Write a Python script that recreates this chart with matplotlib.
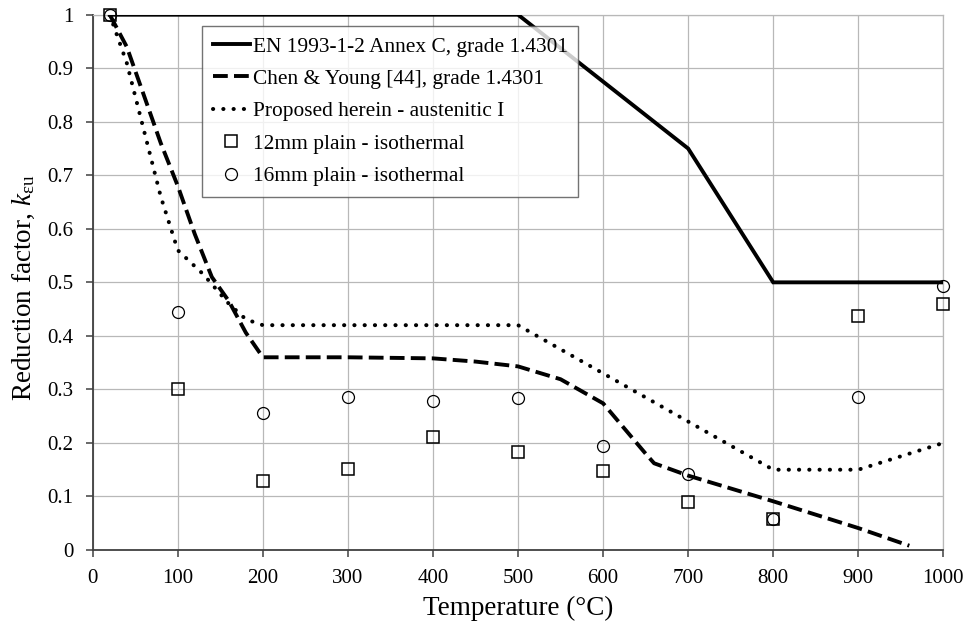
import numpy as np
import matplotlib
matplotlib.use('Agg')
import matplotlib.pyplot as plt

plt.rcParams['font.family'] = ['Liberation Serif', 'DejaVu Serif']
plt.rcParams['mathtext.fontset'] = 'custom'
plt.rcParams['mathtext.rm'] = 'Liberation Serif'
plt.rcParams['mathtext.it'] = 'Liberation Serif:italic'

# EN 1993-1-2 Annex C, grade 1.4301
en_T = [20, 100, 200, 300, 400, 500, 600, 700, 800, 900, 1000]
en_k = [1.0, 1.0, 1.0, 1.0, 1.0, 1.0, 0.875, 0.75, 0.5, 0.5, 0.5]

# Chen & Young [44]
cy_T = [20, 40, 60, 80, 100, 120, 140, 160, 180, 200, 300, 400, 450, 500, 550, 600, 650, 660, 700, 800, 900, 960]
cy_k = [1.0, 0.94, 0.85, 0.76, 0.68, 0.59, 0.51, 0.465, 0.406, 0.36, 0.36, 0.358, 0.352, 0.343, 0.319, 0.274, 0.18, 0.162, 0.139, 0.091, 0.041, 0.008]

# Proposed herein - austenitic I
pr_T = [20, 40, 60, 80, 100, 130, 160, 180, 200, 300, 400, 500, 600, 700, 800, 900, 1000]
pr_k = [1.0, 0.91, 0.785, 0.66, 0.56, 0.515, 0.46, 0.431, 0.42, 0.42, 0.42, 0.42, 0.33, 0.24, 0.15, 0.15, 0.2]

# test data
test_T = [20, 100, 200, 300, 400, 500, 600, 700, 800, 900, 1000]
sq_k = [1.0, 0.301, 0.129, 0.152, 0.211, 0.184, 0.147, 0.089, 0.058, 0.437, 0.459]
ci_k = [1.0, 0.444, 0.256, 0.285, 0.278, 0.284, 0.195, 0.142, 0.058, 0.286, 0.493]

fig = plt.figure(figsize=(9.68, 6.28), dpi=100)
ax = fig.add_axes([0.0958, 0.1242, 0.8787, 0.8524])

ax.plot(en_T, en_k, color='black', lw=2.8, solid_joinstyle='miter',
        label='EN 1993-1-2 Annex C, grade 1.4301', zorder=3)
ax.plot(cy_T, cy_k, color='black', lw=2.8, linestyle=(0, (3.8, 1.6)),
        label='Chen & Young [44], grade 1.4301', zorder=3)
ax.plot(pr_T, pr_k, color='black', lw=2.9, linestyle=(0, (0.05, 2.5)),
        dash_capstyle='round', label='Proposed herein - austenitic I', zorder=3)
ax.plot(test_T, sq_k, linestyle='none', marker='s', markersize=8.3,
        markerfacecolor='none', markeredgecolor='black', markeredgewidth=1.1,
        label='12mm plain - isothermal', zorder=4, clip_on=False)
ax.plot(test_T, ci_k, linestyle='none', marker='o', markersize=8.6,
        markerfacecolor='none', markeredgecolor='black', markeredgewidth=0.9,
        label='16mm plain - isothermal', zorder=4, clip_on=False)

ax.set_xlim(0, 1000)
ax.set_ylim(0, 1)
ax.set_xticks(np.arange(0, 1001, 100))
ax.set_yticks(np.arange(0, 1.01, 0.1))
ax.set_yticklabels(['0', '0.1', '0.2', '0.3', '0.4', '0.5', '0.6', '0.7', '0.8', '0.9', '1'])
ax.grid(True, color='#b8b8b8', lw=0.9)
ax.set_axisbelow(True)
for s in ['top', 'right']:
    ax.spines[s].set_color('#b8b8b8')
    ax.spines[s].set_linewidth(0.9)
for s in ['left', 'bottom']:
    ax.spines[s].set_color('#404040')
    ax.spines[s].set_linewidth(1.3)
ax.tick_params(direction='out', length=5, width=1.1, color='#404040',
               labelsize=15, pad=9)

ax.set_xlabel('Temperature (°C)', fontsize=19.5, labelpad=5)
ax.set_ylabel(r'Reduction factor, $k_{\mathrm{εu}}$', fontsize=19.5)
ax.yaxis.set_label_coords(-0.066, 0.49)

leg = ax.legend(loc='upper left', bbox_to_anchor=(0.1285, 0.979), fontsize=15.4,
                frameon=True, fancybox=False, edgecolor='#505050',
                handlelength=1.75, handletextpad=0.12, labelspacing=0.58,
                borderpad=0.5, borderaxespad=0)
leg.get_frame().set_linewidth(1.0)

fig.savefig('out.png', dpi=100)
